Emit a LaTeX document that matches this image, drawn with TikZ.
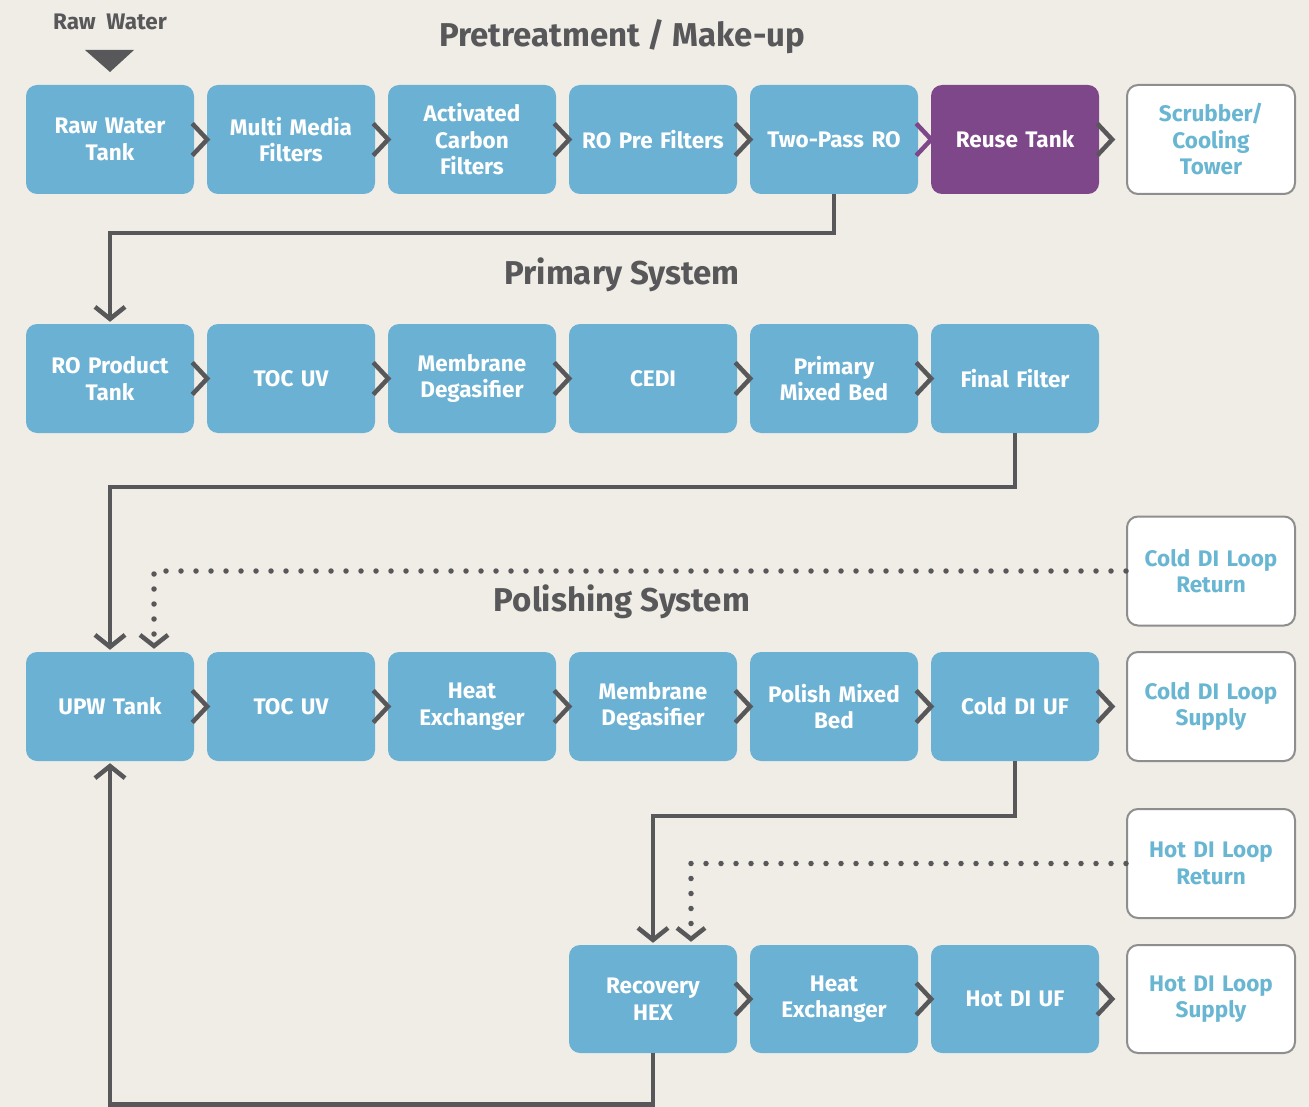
\documentclass[tikz,border=0pt]{standalone}
\usepackage{fontspec}
\setmainfont{Fira Sans}
\usetikzlibrary{arrows.meta,calc}
\definecolor{bg}{HTML}{F0EDE6}
\definecolor{boxblue}{HTML}{6BB1D3}
\definecolor{reuse}{HTML}{7E4789}
\definecolor{ink}{HTML}{58585A}
\definecolor{outline}{HTML}{8E8E8E}
\definecolor{lighttext}{HTML}{69B6D2}
\newcommand\boxfont{\fontsize{22.5}{26.5}\selectfont\bfseries}
\newcommand\titlefont{\fontsize{33}{36}\selectfont\bfseries}
\begin{document}
\begin{tikzpicture}[x=1pt,y=-1pt,
  proc/.style={rectangle, rounded corners=11pt, fill=boxblue, minimum width=168pt, minimum height=109pt, text width=166pt, align=center, text=white, font=\boxfont, inner sep=0pt},
  reusebox/.style={proc, fill=reuse},
  endbox/.style={proc, fill=white, draw=outline, line width=2pt, text=lighttext},
  title/.style={font=\titlefont, text=ink},
  flow/.style={draw=ink, line width=4.5pt, -{Straight Barb[length=12pt,width=30pt,line width=4.5pt]}, shorten >=2pt},
  dotflow/.style={draw=ink, line width=5.5pt, line cap=round, dash pattern=on 0pt off 15pt, -{Straight Barb[length=11pt,width=28pt,line width=4.5pt]}, shorten >=3pt},
  chev/.pic={\draw[line width=4.5pt, line join=miter] (-2,-16) -- (13,0) -- (-2,16);}
]
\fill[bg] (0,0) rectangle (1309,1107);
\useasboundingbox (0,0) rectangle (1309,1107);

% titles
\node[title] (t1) at (622,37) {Pretreatment / Make-up};
\node[title] (t2) at (622,275) {Primary System};
\node[title] (t3) at (622,602) {Polishing System};
\node[font=\fontsize{22.5}{26}\selectfont\bfseries, text=ink] (rw) at (110,22) {Raw\ \ Water};
\fill[ink] (85,50) -- (134,50) -- (110,72) -- cycle;

% row 1
\node[proc] (rwt) at (110,139.5) {Raw Water\\Tank};
\node[proc] (mmf) at (291,139.5) {Multi Media\\Filters};
\node[proc] (acf) at (472,139.5) {Activated\\Carbon\\Filters};
\node[proc] (ropf) at (653,139.5) {RO Pre Filters};
\node[proc] (tworo) at (834,139.5) {Two-Pass RO};
\node[reusebox] (reuse) at (1015,139.5) {Reuse Tank};
\node[endbox] (scrub) at (1211,139.5) {Scrubber/\\Cooling\\Tower};

% row 2
\node[proc] (ropt) at (110,378.5) {RO Product\\Tank};
\node[proc] (toc1) at (291,378.5) {TOC UV};
\node[proc] (md1) at (472,378.5) {Membrane\\Degasifier};
\node[proc] (cedi) at (653,378.5) {CEDI};
\node[proc] (pmb) at (834,378.5) {Primary\\Mixed Bed};
\node[proc] (ff) at (1015,378.5) {Final Filter};

% row 3
\node[endbox] (cdr) at (1211,571) {Cold DI Loop\\Return};
\node[proc] (upw) at (110,706.5) {UPW Tank};
\node[proc] (toc2) at (291,706.5) {TOC UV};
\node[proc] (hx1) at (472,706.5) {Heat\\Exchanger};
\node[proc] (md2) at (653,706.5) {Membrane\\Degasifier};
\node[proc] (polmb) at (834,706.5) {Polish Mixed\\Bed};
\node[proc] (cduf) at (1015,706.5) {Cold DI UF};
\node[endbox] (cds) at (1211,706.5) {Cold DI Loop\\Supply};

% row 4
\node[endbox] (hdr) at (1211,863.5) {Hot DI Loop\\Return};
\node[proc, minimum height=108pt] (rhex) at (653,999) {Recovery\\HEX};
\node[proc, minimum height=108pt] (hx2) at (834,999) {Heat\\Exchanger};
\node[proc, minimum height=108pt] (hduf) at (1015,999) {Hot DI UF};
\node[endbox, minimum height=108pt] (hds) at (1211,999) {Hot DI Loop\\Supply};

% chevrons
\foreach \n in {rwt,mmf,acf,ropf,reuse,ropt,toc1,md1,cedi,pmb,upw,toc2,hx1,md2,polmb,cduf,rhex,hx2,hduf}
  \pic[color=ink] at (\n.east) {chev};
\pic[color=reuse] at (tworo.east) {chev};

% connectors
\draw[flow] (tworo.south) -- ++(0,39) -| (ropt.north);
\draw[flow] (ff.south) -- ++(0,54) -| (upw.north);
\draw[dotflow] (cdr.west) -| ([xshift=44pt]upw.north);
\draw[flow] (cduf.south) -- ++(0,55) -| (rhex.north);
\draw[dotflow] (hdr.west) -| ([xshift=38pt]rhex.north);
\draw[flow] (rhex.south) -- ++(0,51.5) -| (upw.south);
\end{tikzpicture}
\end{document}
